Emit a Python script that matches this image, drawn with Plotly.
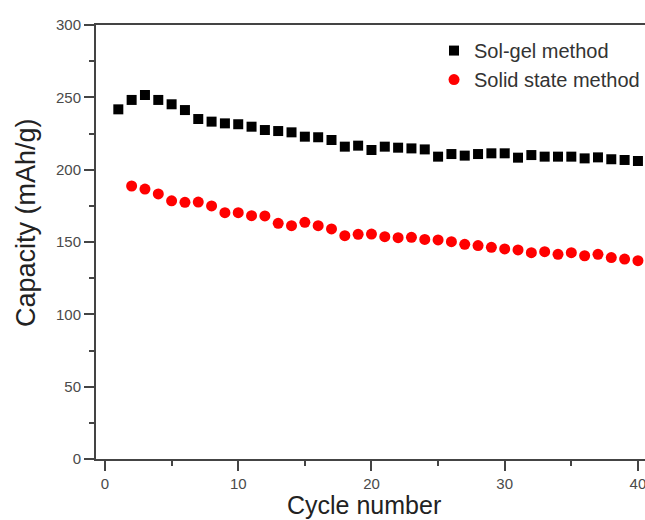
import plotly.graph_objects as go

# ---- data ----
solgel_cycles = list(range(1, 41))
solgel_capacity = [241.7, 248.2, 251.6, 248.2, 245.2, 241.2, 235.0, 233.2, 232.0, 231.4,
                   229.7, 227.4, 226.7, 225.8, 222.8, 222.4, 220.5, 215.9, 216.6, 213.6,
                   215.9, 215.2, 214.7, 214.0, 209.0, 210.8, 209.7, 210.8, 211.3, 211.3,
                   208.3, 210.1, 209.0, 209.0, 209.0, 207.8, 208.5, 207.2, 206.7, 206.0]

solid_cycles = list(range(2, 41))
solid_capacity = [188.7, 186.6, 183.2, 178.5, 177.4, 177.6, 174.9, 170.3, 170.3, 168.2,
                  168.0, 162.9, 161.3, 163.6, 161.3, 159.0, 154.4, 155.3, 155.5, 153.7,
                  153.0, 153.2, 151.8, 151.4, 150.2, 148.4, 147.5, 146.3, 145.2, 144.5,
                  142.6, 143.3, 141.5, 142.6, 140.5, 141.5, 139.2, 138.2, 137.1]

series_names = ["Sol-gel method", "Solid state method"]
x_ticks = [0, 10, 20, 30, 40]
y_ticks = [0, 50, 100, 150, 200, 250, 300]
x_title = "Cycle number"
y_title = "Capacity (mAh/g)"

FONT = "Liberation Sans, Arial, Helvetica, sans-serif"

fig = go.Figure()
fig.add_trace(go.Scatter(
    x=solgel_cycles, y=solgel_capacity, mode="markers", name=series_names[0],
    legendgroup="a",
    marker=dict(symbol="square", size=10, color="black"),
))
fig.add_trace(go.Scatter(
    x=solid_cycles, y=solid_capacity, mode="markers", name=series_names[1],
    legendgroup="b",
    marker=dict(symbol="circle", size=11, color="#ff0000"),
))

axis_common = dict(
    showgrid=False, zeroline=False, showline=True, linecolor="#444", linewidth=2,
    ticks="outside", ticklen=10, tickwidth=2, tickcolor="#444",
    tickfont=dict(family=FONT, size=15, color="#4a4a4a"),
    ticklabeloverflow="allow",
)

fig.update_xaxes(
    **axis_common,
    range=[-0.675, 40.53], tickvals=x_ticks, ticktext=[str(v) for v in x_ticks],
    mirror=True,
    minor=dict(dtick=5, tick0=0, ticklen=5, tickwidth=2, tickcolor="#444", ticks="outside"),
)
fig.update_yaxes(
    **axis_common,
    range=[0, 300], tickvals=y_ticks, ticktext=[str(v) for v in y_ticks],
    minor=dict(dtick=25, tick0=0, ticklen=5, tickwidth=2, tickcolor="#444", ticks="outside"),
)

# axis titles placed as text annotations to match the reference positions
fig.add_annotation(text=x_title, xref="paper", yref="paper", x=0.4882, y=-0.106,
                   xanchor="center", yanchor="middle", showarrow=False,
                   font=dict(family=FONT, size=25, color="#222"))
fig.add_annotation(text=y_title, xref="paper", yref="paper", x=-0.1275, y=0.5438,
                   xanchor="center", yanchor="middle", showarrow=False, textangle=-90,
                   font=dict(family=FONT, size=27, color="#222"))

fig.update_layout(
    width=645, height=520,
    margin=dict(l=96, r=0, t=25, b=61, autoexpand=False),
    paper_bgcolor="white", plot_bgcolor="white",
    showlegend=True,
    legend=dict(x=0.6157, y=0.986, xanchor="left", yanchor="top",
                font=dict(family=FONT, size=20, color="#333"),
                bgcolor="rgba(0,0,0,0)", tracegroupgap=0),
)

fig.write_html("out.html")
